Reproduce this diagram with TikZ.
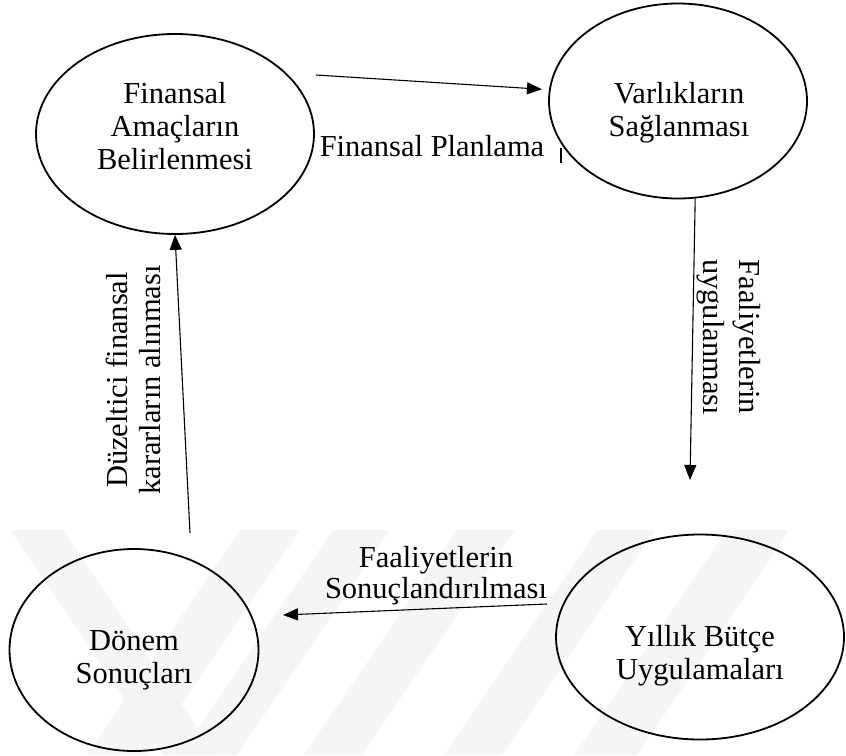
\documentclass[tikz,border=0pt]{standalone}
\usepackage{fontspec}
\setmainfont{Liberation Serif}
\usetikzlibrary{arrows.meta, shapes.geometric}

\begin{document}
\begin{tikzpicture}[
  x=1pt, y=-1pt,
  oval/.style={ellipse, draw=black, line width=1.8pt, inner sep=0pt},
  ovaltext/.style={align=center, font=\fontsize{30.5}{33}\selectfont},
  flowlabel/.style={align=center, font=\fontsize{30.5}{31}\selectfont},
  arr/.style={-{Triangle[length=15pt, width=12pt]}, line width=1.1pt},
  wm/.style={fill=black!4}
]
\useasboundingbox (0,0) rectangle (846,755);

% Watermark bands
\fill[wm] (10,530) -- (63,530) -- (216,755) -- (163,755) -- cycle;
\fill[wm] (240,530) -- (300,530) -- (147,755) -- (87,755) -- cycle;
\fill[wm] (333,530) -- (390,530) -- (237,755) -- (180,755) -- cycle;
\fill[wm] (457,530) -- (515,530) -- (362,755) -- (304,755) -- cycle;
\fill[wm] (597,530) -- (655,530) -- (502,755) -- (444,755) -- cycle;
\fill[wm] (727,530) -- (790,530) -- (637,755) -- (574,755) -- cycle;

% Stages
\node[oval, minimum width=278pt, minimum height=200pt] (fin) at (175,134) {};
\node[oval, minimum width=258pt, minimum height=195pt] (var) at (678,101) {};
\node[oval, minimum width=288pt, minimum height=205pt] (yil) at (700,637) {};
\node[oval, minimum width=249pt, minimum height=202pt] (don) at (134,650) {};

\node[ovaltext] (fintext) at (175,126) {Finansal\\Amaçların\\Belirlenmesi};
\node[ovaltext] (vartext) at (679,113) {Varlıkların\\Sağlanması};
\node[ovaltext] (yiltext) at (700,656) {Yıllık Bütçe\\Uygulamaları};
\node[ovaltext] (dontext) at (134,660) {Dönem\\Sonuçları};

% Connector ends
\coordinate (p1) at (316,75);
\coordinate (p2) at (690,480);
\coordinate (p3) at (547,604);
\coordinate (p4) at (283,615);
\coordinate (p5) at (190,533);

% Connectors
\draw[arr, shorten >=7pt] (p1) -- (var.175);
\draw[arr] (var.-80) -- (p2);
\draw[arr] (p3) -- (p4);
\draw[arr] (p5) -- (fin.south);
\draw[line width=1.1pt] (561,148) -- (561,163);

% Connector labels
\node[flowlabel] (plan) at (432,146) {Finansal Planlama};
\node[flowlabel] (sonuc) at (436,576) {Faaliyetlerin\\Sonuçlandırılması};
\node[flowlabel, rotate=-90] (uygu) at (729,337) {Faaliyetlerin\\[5pt]uygulanması};
\node[flowlabel, rotate=90] (duz) at (133,380) {Düzeltici finansal\\[2pt]kararların alınması};

\end{tikzpicture}
\end{document}
